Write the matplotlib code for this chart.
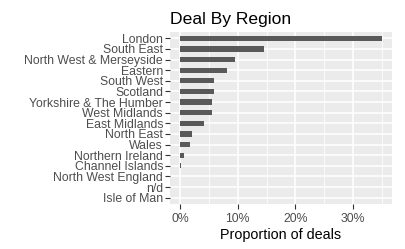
import matplotlib
matplotlib.use("Agg")
import matplotlib.pyplot as plt
from matplotlib.ticker import FuncFormatter

regions = ["London", "South East", "North West & Merseyside", "Eastern", "South West",
           "Scotland", "Yorkshire & The Humber", "West Midlands", "East Midlands",
           "North East", "Wales", "Northern Ireland", "Channel Islands",
           "North West England", "n/d", "Isle of Man"]
proportions = [35.0, 14.5, 9.6, 8.05, 5.95, 5.8, 5.6, 5.45, 4.1, 2.15, 1.8, 0.75, 0.12,
               0.0, 0.0, 0.0]
x_ticks = [0, 10, 20, 30]

plt.rcParams['font.family'] = ['Liberation Sans', 'DejaVu Sans']

fig = plt.figure(figsize=(4.06, 2.49), dpi=100)
ax = fig.add_axes([170/406, 1-204/249, (392-170)/406, (204-32)/249])
ax.set_facecolor('#EBEBEB')

n = len(regions)
ypos = list(range(n, 0, -1))
ax.barh(ypos, proportions, height=0.5, color='#595959', zorder=3)

xmax = max(proportions)
ax.set_xlim(-0.05*xmax, xmax*1.05)
ax.set_ylim(0.4, n + 0.6)

ax.set_yticks(ypos)
ax.set_yticklabels(regions)
ax.xaxis.set_major_locator(plt.FixedLocator(x_ticks))
ax.xaxis.set_minor_locator(plt.FixedLocator([5, 15, 25, 35]))
ax.xaxis.set_major_formatter(FuncFormatter(lambda v, p: f"{int(v)}%"))

ax.grid(which='major', axis='both', color='white', linewidth=1.1, zorder=1)
ax.grid(which='minor', axis='x', color='white', linewidth=0.55, zorder=1)
ax.set_axisbelow(True)
for s in ax.spines.values():
    s.set_visible(False)

ax.tick_params(axis='both', which='major', colors='#333333', length=3.5, width=0.8,
               labelcolor='#4D4D4D', labelsize=8.8, pad=1.5)
ax.tick_params(axis='x', which='minor', length=0)
ax.tick_params(axis='x', pad=3)

ax.set_xlabel("Proportion of deals", fontsize=10.4, color='black', labelpad=2)
ax.set_title("Deal By Region", fontsize=12.6, color='black', pad=6, loc='left')

fig.savefig("out.png", dpi=100)
